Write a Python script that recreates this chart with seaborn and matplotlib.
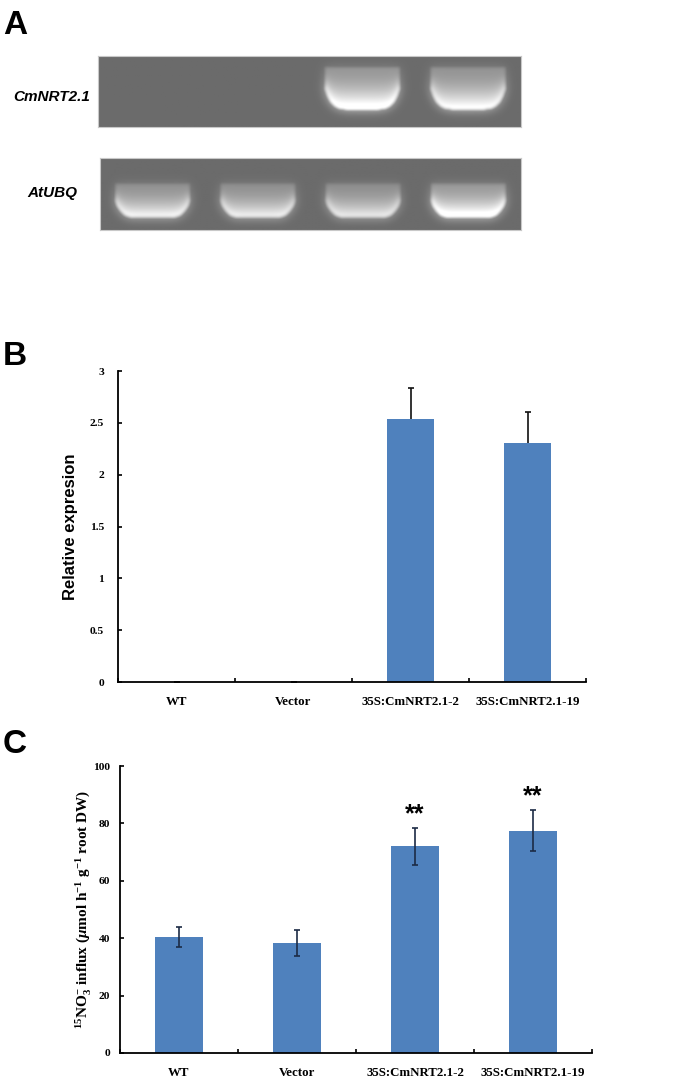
import numpy as np
import matplotlib
matplotlib.use("Agg")
import matplotlib.pyplot as plt
import seaborn as sns
from matplotlib.ticker import FuncFormatter

# ---- data ----
groups = ["WT", "Vector", "35S:CmNRT2.1-2", "35S:CmNRT2.1-19"]

# panel A: band brightness per lane (0 = no band)
gel_cmnrt = [0.0, 0.0, 1.0, 0.92]
gel_atubq = [0.88, 0.84, 0.80, 1.05]

# panel B: relative expression
expr_mean = [0.0, 0.0, 2.54, 2.31]
expr_err = [0.0, 0.0, 0.30, 0.29]

# panel C: 15NO3- influx
influx_mean = [40.3, 38.4, 72.0, 77.5]
influx_err = [3.5, 4.6, 6.4, 7.1]
influx_sig = ["", "", "**", "**"]

BLUE = "#4F81BD"
W, H = 685, 1083


def blur(img, sigma):
    r = int(3 * sigma)
    k = np.exp(-0.5 * (np.arange(-r, r + 1) / sigma) ** 2)
    k /= k.sum()
    pad = np.pad(img, r, mode="edge")
    tmp = np.apply_along_axis(lambda v: np.convolve(v, k, mode="valid"), 1, pad)
    return np.apply_along_axis(lambda v: np.convolve(v, k, mode="valid"), 0, tmp)


def gel_image(levels, top, bottom, nx=420, ny=72, bg=0.42):
    """build a simple agarose-gel look: one U-shaped glowing band per lane"""
    x = (np.arange(nx) + 0.5) / nx * len(levels)
    y = (np.arange(ny) + 0.5) / ny
    X, Y = np.meshgrid(x, y)
    img = np.full((ny, nx), bg)
    for i, lv in enumerate(levels):
        if lv <= 0:
            continue
        dx = (X - (i + 0.5)) / 0.36
        edge = np.clip(1 - np.abs(dx) ** 6, 0, 1)
        bot = top + (bottom - top) * (0.5 + 0.5 * edge)
        inside = (np.abs(dx) < 1) & (Y > top) & (Y < bot)
        frac = np.clip((Y - top) / (bot - top), 0, 1)
        val = bg + (1 - bg) * lv * (0.3 + 0.95 * frac ** 2)
        img = np.where(inside, np.maximum(img, val), img)
    sharp = blur(img, 1.8)
    halo = blur(img, 5.0)
    return np.clip(np.maximum(sharp, bg + 0.6 * (halo - bg)), 0, 1)


def draw_gel(ax, levels, top, bottom):
    ax.imshow(gel_image(levels, top, bottom), cmap="gray", vmin=0, vmax=1,
              aspect="auto", extent=[0, len(levels), 1, 0], interpolation="bilinear")
    ax.set_xticks([])
    ax.set_yticks([])
    for s in ax.spines.values():
        s.set_color("#c8c8c8")
        s.set_linewidth(0.8)


def style_axes(ax, ymax, ystep, ypad):
    sns.despine(ax=ax)
    for s in ("left", "bottom"):
        ax.spines[s].set_linewidth(1.3)
        ax.spines[s].set_color("black")
    ax.set_xlim(-0.5, len(groups) - 0.5)
    ax.set_ylim(0, ymax)
    ax.set_yticks(np.arange(0, ymax + ystep / 2, ystep))
    ax.yaxis.set_major_formatter(FuncFormatter(lambda v, p: "%g" % v))
    ax.set_xticks(range(len(groups)))
    ax.set_xticklabels(groups)
    ax.set_xticks(np.arange(-0.5, len(groups)), minor=True)
    ax.tick_params(axis="x", which="major", length=0, pad=10, labelsize=9.3)
    ax.tick_params(axis="x", which="minor", direction="in", length=3, width=1.2)
    ax.tick_params(axis="y", direction="in", length=3, width=1.2, pad=ypad, labelsize=8.2)
    for lab in ax.get_xticklabels() + ax.get_yticklabels():
        lab.set_fontfamily("Liberation Serif")
        lab.set_fontweight("bold")
    ax.set_xlabel("")


sns.set_theme(style="ticks")
plt.rcParams["font.family"] = ["Liberation Sans", "DejaVu Sans"]
plt.rcParams["text.color"] = "black"
plt.rcParams["axes.labelcolor"] = "black"
plt.rcParams["xtick.color"] = "black"
plt.rcParams["ytick.color"] = "black"
plt.rcParams["mathtext.fontset"] = "custom"
plt.rcParams["mathtext.rm"] = "Liberation Serif:bold"
plt.rcParams["mathtext.it"] = "Liberation Serif:italic:bold"
plt.rcParams["mathtext.bf"] = "Liberation Serif:bold"

fig = plt.figure(figsize=(W / 100, H / 100), dpi=100)
fig.patch.set_facecolor("white")

# ---- A: gels ----
ax_g1 = fig.add_axes([98 / W, 1 - 127 / H, 423 / W, 71 / H])
draw_gel(ax_g1, gel_cmnrt, 0.15, 0.76)
ax_g2 = fig.add_axes([100 / W, 1 - 230 / H, 421 / W, 72 / H])
draw_gel(ax_g2, gel_atubq, 0.36, 0.84)

fig.text(52 / W, 1 - 97 / H, "CmNRT2.1", ha="center", va="center", fontsize=11,
         style="italic", fontweight="bold")
fig.text(52 / W, 1 - 193 / H, "AtUBQ", ha="center", va="center", fontsize=11,
         style="italic", fontweight="bold")

# ---- B: relative expression ----
axB = fig.add_axes([118 / W, 1 - 682 / H, 468 / W, 311 / H])
sns.barplot(x=groups, y=expr_mean, order=groups, color=BLUE, saturation=1, width=0.4,
            errorbar=None, linewidth=0, ax=axB, zorder=2)
axB.errorbar(range(len(groups)), expr_mean, yerr=expr_err, fmt="none", ecolor="#111111",
             elinewidth=1.2, capsize=2.3, capthick=1.2, zorder=1)
style_axes(axB, 3, 0.5, 10)
axB.set_ylabel("Relative expresion", fontsize=12, fontweight="bold")
axB.yaxis.set_label_coords(-0.085, 0.5)

# ---- C: nitrate influx ----
axC = fig.add_axes([120 / W, 1 - 1053 / H, 472 / W, 287 / H])
sns.barplot(x=groups, y=influx_mean, order=groups, color=BLUE, saturation=1, width=0.4,
            errorbar=None, linewidth=0, ax=axC, zorder=2)
axC.errorbar(range(len(groups)), influx_mean, yerr=influx_err, fmt="none", ecolor="#1c2b45",
             elinewidth=1.2, capsize=2.3, capthick=1.2, zorder=3)
for i, s in enumerate(influx_sig):
    if s:
        axC.text(i, influx_mean[i] + influx_err[i] + 4.8, s, ha="center", va="center",
                 fontsize=18, fontweight="bold")
style_axes(axC, 100, 20, 7)
axC.set_ylabel(r"$^{15}$NO$_3^{-}$ influx ($\mu$mol h$^{-1}$ g$^{-1}$ root DW)",
               fontsize=11, fontweight="bold", fontfamily="Liberation Serif")
axC.yaxis.set_label_coords(-0.057, 0.5)

# ---- panel letters ----
for letter, ybase in (("A", 34), ("B", 365), ("C", 753)):
    fig.text(3 / W, 1 - ybase / H, letter, fontsize=24, fontweight="bold", va="baseline")

fig.savefig("out.png", dpi=100)
